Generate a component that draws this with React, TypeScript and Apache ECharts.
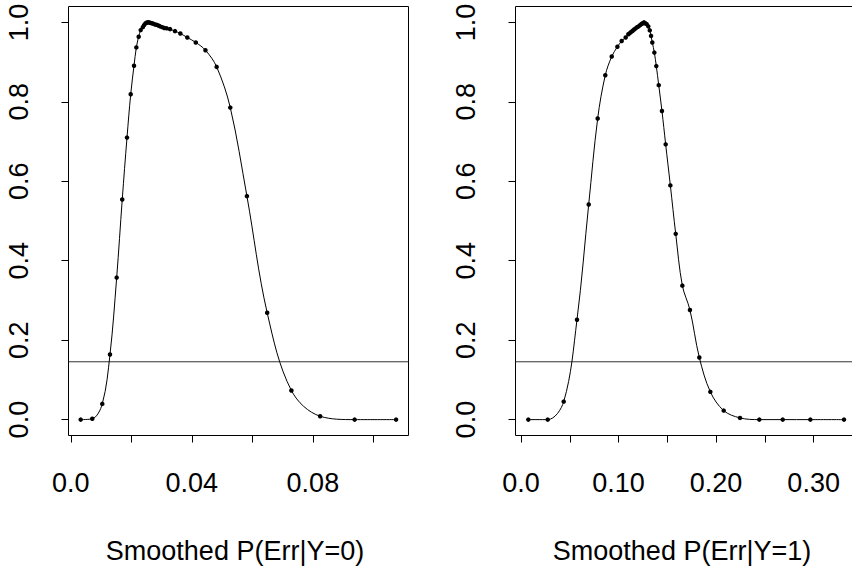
import React, { useEffect, useRef } from "react";
import * as echarts from "echarts";

// Panel 1: Smoothed P(Err|Y=0)
const y0X = [
  0.00327, 0.0071, 0.0104, 0.01295, 0.01516, 0.017, 0.01857, 0.0198, 0.02089, 0.02166, 0.02243, 0.0231,
  0.0238, 0.0242, 0.0246, 0.025, 0.0254, 0.0258, 0.0262, 0.0267, 0.0272, 0.0277, 0.0283, 0.0289, 0.0295,
  0.0302, 0.0309, 0.0317, 0.0328, 0.03443, 0.0362, 0.0385, 0.0413, 0.0445, 0.0482, 0.0527, 0.0582,
  0.0649, 0.0729, 0.0824, 0.0938, 0.1075,
];
const y0Y = [
  0.0, 0.002, 0.0396, 0.164, 0.3575, 0.554, 0.71, 0.819, 0.891, 0.937, 0.964, 0.9806,
  0.988, 0.993, 0.997, 0.999, 1.0, 1.0, 0.999, 0.998, 0.997, 0.995, 0.994, 0.992, 0.99,
  0.988, 0.986, 0.985, 0.983, 0.978, 0.972, 0.962, 0.9495, 0.93, 0.888, 0.7855, 0.5626,
  0.269, 0.0732, 0.0085, 0.0, 0.0,
];

// Panel 2: Smoothed P(Err|Y=1)
const y1X = [
  0.0075, 0.0274, 0.0438, 0.0574, 0.0694, 0.0786, 0.0864, 0.093, 0.0988, 0.1032, 0.1073,
  0.11, 0.1115, 0.113, 0.1145, 0.116, 0.1175, 0.119, 0.1205, 0.122, 0.1235, 0.1248, 0.1261,
  0.1272, 0.1288, 0.1305, 0.132, 0.1333, 0.1346, 0.1367, 0.1387, 0.1412, 0.1445, 0.1483, 0.1531,
  0.1586, 0.1654, 0.1732, 0.1828, 0.1941, 0.2078, 0.2245, 0.2443, 0.2683, 0.2966, 0.3311,
];
const y1Y = [
  0.0, 0.0, 0.0454, 0.2515, 0.5416, 0.758, 0.867, 0.914, 0.9385, 0.953, 0.962,
  0.97, 0.973, 0.976, 0.979, 0.982, 0.985, 0.988, 0.99, 0.993, 0.996, 0.998, 1.0,
  0.998, 0.9957, 0.99, 0.98, 0.966, 0.9495, 0.924, 0.89, 0.842, 0.777, 0.693, 0.5896,
  0.4677, 0.3373, 0.276, 0.1564, 0.0699, 0.0227, 0.0043, 0.0, 0.0, 0.0, 0.0,
];

const threshold = 0.1456;

const yTicks = [0, 0.2, 0.4, 0.6, 0.8, 1.0];
const x0Ticks = [0, 0.02, 0.04, 0.06, 0.08, 0.1];
const x0Labels = [0, 0.04, 0.08];
const x0LabelText = ["0.0", "0.04", "0.08"];
const x1Ticks = [0, 0.05, 0.1, 0.15, 0.2, 0.25, 0.3];
const x1Labels = [0, 0.1, 0.2, 0.3];
const x1LabelText = ["0.0", "0.10", "0.20", "0.30"];

const titles = ["Smoothed P(Err|Y=0)", "Smoothed P(Err|Y=1)"];

// plot-box value ranges (R's 4% extension)
const BOX_Y = [-0.04, 1.04];
const BOX_X = [
  [-0.00076, 0.1116],
  [-0.00564, 0.3429],
];

const FONT = "'Liberation Sans', Arial, Helvetica, sans-serif";
const FS = 27;
const TICK = 7;
const BOX_LEFT = [68.5, 515.5];
const BOX_TOP = 6.5;
const BOX_W = 340;
const BOX_H = 429;

export default function App() {
  const ref = useRef<HTMLDivElement>(null);
  useEffect(() => {
    if (!ref.current) return;
    const chart = echarts.init(ref.current, undefined, { renderer: "svg" });
    const pairs0 = y0X.map((x, i) => [x, y0Y[i]]);
    const pairs1 = y1X.map((x, i) => [x, y1Y[i]]);
    // the grid reaches TICK px beyond the box on the left and bottom, so the ticks sit inside it
    const yExt = ((BOX_Y[1] - BOX_Y[0]) / BOX_H) * TICK;
    const xExt = (i: number) => ((BOX_X[i][1] - BOX_X[i][0]) / BOX_W) * TICK;
    const fmt = (vals: number[], texts: string[]) => (v: number) => {
      const idx = vals.findIndex((t) => Math.abs(t - v) < 1e-9);
      return idx >= 0 ? texts[idx] : "";
    };
    const xAxisBase = (gi: number, ticks: number[], labels: number[], texts: string[]) => ({
      type: "value",
      gridIndex: gi,
      min: BOX_X[gi][0] - xExt(gi),
      max: BOX_X[gi][1],
      name: titles[gi],
      nameLocation: "middle",
      nameGap: 95,
      nameTextStyle: { fontFamily: FONT, fontSize: FS, color: "#000" },
      axisLine: { show: false, onZero: false },
      splitLine: { show: false },
      axisTick: {
        show: true,
        inside: true,
        length: TICK,
        customValues: ticks,
        lineStyle: { color: "#000", width: 1 },
      },
      axisLabel: {
        customValues: labels,
        formatter: fmt(labels, texts),
        fontFamily: FONT,
        fontSize: FS,
        color: "#000",
        margin: 27,
      },
    });
    const yAxisBase = (gi: number) => ({
      type: "value",
      gridIndex: gi,
      min: BOX_Y[0] - yExt,
      max: BOX_Y[1],
      axisLine: { show: false, onZero: false },
      splitLine: { show: false },
      axisTick: {
        show: true,
        inside: true,
        length: TICK,
        customValues: yTicks,
        lineStyle: { color: "#000", width: 1 },
      },
      axisLabel: {
        customValues: yTicks,
        formatter: (v: number) => v.toFixed(1),
        rotate: 90,
        fontFamily: FONT,
        fontSize: FS,
        color: "#000",
        margin: 29,
      },
    });
    const boxSeries = (gi: number) => ({
      type: "line",
      xAxisIndex: gi,
      yAxisIndex: gi,
      clip: false,
      silent: true,
      symbol: "none",
      data: [
        [BOX_X[gi][0], BOX_Y[0]],
        [BOX_X[gi][0], BOX_Y[1]],
        [BOX_X[gi][1], BOX_Y[1]],
        [BOX_X[gi][1], BOX_Y[0]],
        [BOX_X[gi][0], BOX_Y[0]],
      ],
      lineStyle: { color: "#000", width: 1 },
      z: 1,
    });
    const thresholdSeries = (gi: number) => ({
      type: "line",
      xAxisIndex: gi,
      yAxisIndex: gi,
      clip: false,
      silent: true,
      symbol: "none",
      data: [
        [BOX_X[gi][0], threshold],
        [BOX_X[gi][1], threshold],
      ],
      lineStyle: { color: "#333", width: 1 },
      z: 2,
    });
    const curveSeries = (gi: number, data: number[][]) => ({
      type: "line",
      xAxisIndex: gi,
      yAxisIndex: gi,
      data,
      clip: false,
      smooth: 0.35,
      symbol: "circle",
      symbolSize: 4.5,
      showAllSymbol: true,
      itemStyle: { color: "#000" },
      lineStyle: { color: "#000", width: 1 },
      z: 3,
    });
    chart.setOption({
      animation: false,
      grid: [0, 1].map((gi) => ({
        left: BOX_LEFT[gi] - TICK,
        top: BOX_TOP,
        width: BOX_W + TICK,
        height: BOX_H + TICK,
        show: false,
      })),
      xAxis: [xAxisBase(0, x0Ticks, x0Labels, x0LabelText), xAxisBase(1, x1Ticks, x1Labels, x1LabelText)],
      yAxis: [yAxisBase(0), yAxisBase(1)],
      series: [
        boxSeries(0),
        boxSeries(1),
        thresholdSeries(0),
        thresholdSeries(1),
        curveSeries(0, pairs0),
        curveSeries(1, pairs1),
      ],
    });
    return () => chart.dispose();
  }, []);
  return (
    <div style={{ position: "absolute", left: 0, top: 0, width: 852, height: 571, overflow: "hidden", background: "#fff" }}>
      <div ref={ref} style={{ width: 870, height: 571 }} />
    </div>
  );
}
